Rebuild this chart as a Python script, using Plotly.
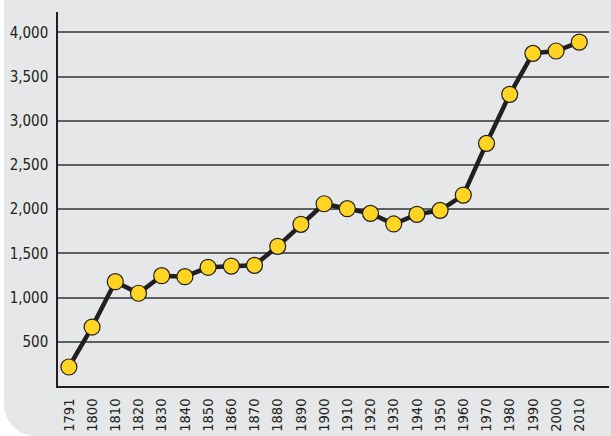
import plotly.graph_objects as go

years = ["1791", "1800", "1810", "1820", "1830", "1840", "1850", "1860", "1870", "1880",
         "1890", "1900", "1910", "1920", "1930", "1940", "1950", "1960", "1970", "1980",
         "1990", "2000", "2010"]
values = [215, 667, 1180, 1049, 1248, 1237, 1343, 1357, 1365, 1580,
          1829, 2062, 2006, 1953, 1833, 1942, 1987, 2160, 2745, 3300,
          3763, 3790, 3891]
y_ticks = [500, 1000, 1500, 2000, 2500, 3000, 3500, 4000]
y_tick_labels = ["500", "1,000", "1,500", "2,000", "2,500", "3,000", "3,500", "4,000"]

W, H = 611, 436
L, R, T, B = 58, 2, 12, 50
pw, ph = W - L - R, H - T - B

def px(x):
    return (x - L) / pw

def py(y):
    return (H - B - y) / ph

fig = go.Figure()
fig.add_trace(go.Scatter(
    x=years, y=values, mode="lines+markers",
    line=dict(color="#231f20", width=4.5),
    marker=dict(size=16, color="#ffd422", line=dict(color="#231f20", width=1.2)),
    cliponaxis=False, hoverinfo="x+y",
))

r = 32
k = 0.552 * r
path = (f"M {px(0)},{py(0)} L {px(4)},{py(0)} L {px(4)},{py(H - r)} "
        f"C {px(4)},{py(H - r + k)} {px(4 + r - k)},{py(H)} {px(4 + r)},{py(H)} "
        f"L {px(0)},{py(H)} Z")

fig.update_layout(
    width=W, height=H,
    margin=dict(l=L, r=R, t=T, b=B, autoexpand=False),
    paper_bgcolor="#e6e7e8",
    plot_bgcolor="#e6e7e8",
    showlegend=False,
    font=dict(family="DejaVu Sans Condensed, sans-serif", size=15, color="#231f20"),
    shapes=[dict(type="path", xref="paper", yref="paper", path=path,
                 fillcolor="white", line=dict(width=0), layer="below")],
    xaxis=dict(
        type="category", range=[-0.47, 23.28], automargin=False,
        tickmode="array", tickvals=years, ticktext=years,
        tickangle=-90, showgrid=False, zeroline=False,
        showline=True, linecolor="#231f20", linewidth=1.5,
        ticks="", ticklabelstandoff=5, tickfont=dict(size=14.5),
    ),
    yaxis=dict(
        range=[0, 4231], automargin=False,
        tickmode="array", tickvals=y_ticks, ticktext=y_tick_labels,
        showgrid=True, gridcolor="#5f6062", gridwidth=1.5,
        zeroline=False, showline=True, linecolor="#231f20", linewidth=1.5,
        ticks="", ticklabelstandoff=5,
    ),
)

fig.write_html("out.html", config={"displayModeBar": False},
               post_script="document.body.style.margin='0';document.body.style.overflow='hidden';")
